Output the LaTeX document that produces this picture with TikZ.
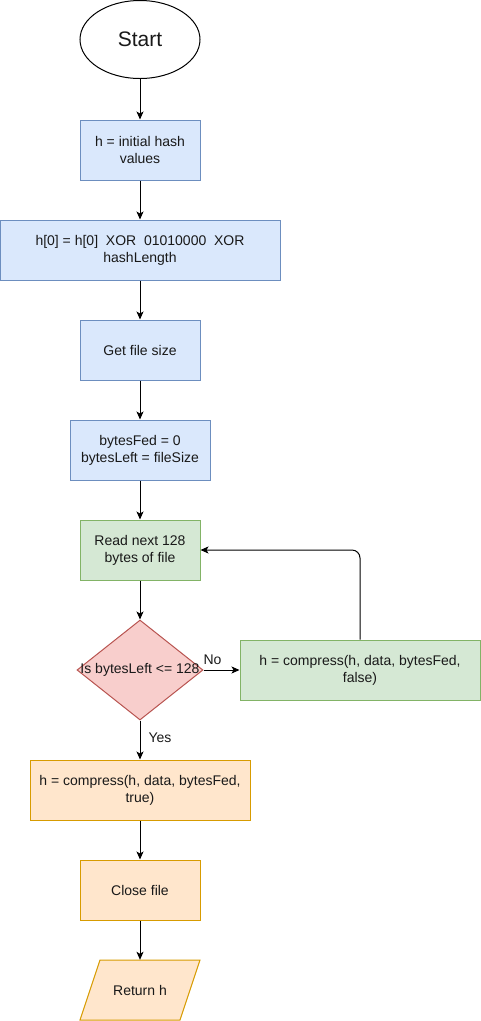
\documentclass[tikz,border=0pt]{standalone}
\usepackage{fontspec}
\setmainfont{Liberation Sans}
\usetikzlibrary{arrows.meta,shapes.geometric}
\definecolor{bfill}{HTML}{DAE8FC}\definecolor{bline}{HTML}{6C8EBF}
\definecolor{gfill}{HTML}{D5E8D4}\definecolor{gline}{HTML}{82B366}
\definecolor{rfill}{HTML}{F8CECC}\definecolor{rline}{HTML}{B85450}
\definecolor{ofill}{HTML}{FFE6CC}\definecolor{oline}{HTML}{D79B00}
\tikzset{
  txt/.style={font=\fontsize{14}{17}\selectfont, align=center, text=black!90},
  box/.style={txt, rectangle, draw, line width=1pt, inner sep=2pt, minimum height=60pt},
  bluebox/.style={box, fill=bfill, draw=bline},
  greenbox/.style={box, fill=gfill, draw=gline},
  orangebox/.style={box, fill=ofill, draw=oline},
  arr/.style={-{Stealth[length=8pt,width=7pt,inset=2pt]}, line width=1pt, black},
  lbl/.style={txt, inner sep=0pt}
}
\begin{document}
\begin{tikzpicture}[x=1pt,y=-1pt]
\useasboundingbox (0,0) rectangle (481,1021);
\node[txt, ellipse, draw, line width=1pt, minimum width=120pt, minimum height=78pt, inner sep=0pt, font=\fontsize{21}{24}\selectfont] (start) at (140,39.5) {Start};
\node[bluebox, minimum width=120pt] (init) at (140,150) {h = initial hash\\values};
\node[bluebox, minimum width=280pt] (xor) at (140,250) {h[0] = h[0]\ \ XOR\ \ 01010000\ \ XOR\\hashLength};
\node[bluebox, minimum width=120pt] (size) at (140,350) {Get file size};
\node[bluebox, minimum width=140pt] (vars) at (140,450) {bytesFed = 0\\bytesLeft = fileSize};
\node[greenbox, minimum width=120pt] (read) at (140,550) {Read next 128\\bytes of file};
\node[diamond, draw=rline, fill=rfill, line width=1pt, inner sep=0pt, minimum width=126pt, minimum height=100pt] (dec) at (140,670) {};
\node[lbl] (dect) at (140,670) {Is bytesLeft <= 128};
\node[greenbox, minimum width=240pt] (cmpF) at (360,670) {h = compress(h, data, bytesFed,\\false)};
\node[orangebox, minimum width=220pt] (cmpT) at (140,790) {h = compress(h, data, bytesFed,\\true)};
\node[orangebox, minimum width=120pt] (close) at (140,890) {Close file};
\draw[draw=oline, fill=ofill, line width=1pt] (100,960) -- (200,960) -- (180,1020) -- (80,1020) -- cycle;
\node[lbl, minimum width=100pt, minimum height=60pt] (ret) at (140,990) {Return h};
\draw[arr] (start) -- (init);
\draw[arr] (init) -- (xor);
\draw[arr] (xor) -- (size);
\draw[arr] (size) -- (vars);
\draw[arr] (vars) -- (read);
\draw[arr] (read) -- (dec);
\draw[arr] (dec) -- node[lbl, pos=0.25, above=5pt] {No} (cmpF);
\draw[arr] (dec) -- node[lbl, pos=0.45, right=8pt] {Yes} (cmpT);
\draw[arr, rounded corners=8pt] (cmpF.north) |- (read.east);
\draw[arr] (cmpT) -- (close);
\draw[arr] (close) -- (ret.north);
\end{tikzpicture}
\end{document}
